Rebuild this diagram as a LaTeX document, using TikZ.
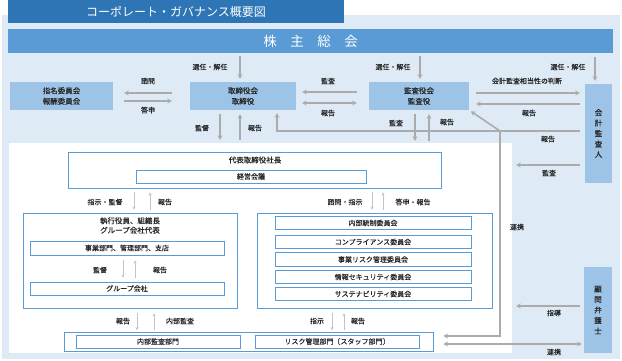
\documentclass[tikz,border=0pt]{standalone}
\usepackage{fontspec}
\setmainfont{Noto Sans CJK JP}[FakeBold=0.3]
\newfontfamily\plainjp{Noto Sans CJK JP}
\usetikzlibrary{arrows.meta}
\definecolor{bgblue}{HTML}{DEEBF7}
\definecolor{titleblue}{HTML}{2E75B6}
\definecolor{shblue}{HTML}{5B9BD5}
\definecolor{midblue}{HTML}{9DC3E6}
\definecolor{bord}{HTML}{5B9BD5}
\definecolor{arrgray}{HTML}{ABABAB}
\definecolor{tgray}{HTML}{C4C4C4}
\definecolor{txt}{HTML}{262626}
\begin{document}
\begin{tikzpicture}[x=1pt,y=-1pt,
  lab/.style={font=\fontsize{7}{8}\selectfont, text=txt, inner sep=0},
  bluebox/.style={fill=midblue, draw=none, inner sep=0, font=\fontsize{7.5}{10.5}\selectfont, text=txt, align=center},
  wbox/.style={draw=bord, line width=0.9pt, fill=white, inner sep=0, font=\fontsize{7}{8}\selectfont, text=txt},
  arr/.style={draw=arrgray, line width=1.6pt, -{Stealth[length=4.5pt,width=5pt]}},
  arrb/.style={draw=arrgray, line width=1.6pt, {Stealth[length=4.5pt,width=5pt]}-{Stealth[length=4.5pt,width=5pt]}},
  tarr/.style={draw=tgray, line width=0.9pt, -{Stealth[length=3pt,width=3.2pt]}},
]
\useasboundingbox (0,0) rectangle (622,361);
% backgrounds
\fill[bgblue] (2,15) rectangle (620,359);
\node[fill=titleblue, minimum width=336pt, minimum height=23pt, inner sep=0, text=white, font=\plainjp\fontsize{12}{14}\selectfont] (title) at (176,11.5) {コーポレート・ガバナンス概要図};
\node[fill=shblue, minimum width=605pt, minimum height=24pt, inner sep=0, text=white, font=\plainjp\fontsize{13.5}{15}\selectfont] (sh) at (310.5,41) {株\quad 主\quad 総\quad 会};
\node[fill=white, minimum width=503pt, minimum height=210pt, inner sep=0] (exarea) at (260.5,248) {};

% top boxes
\node[bluebox, minimum width=103pt, minimum height=28pt] (nom) at (61.5,96) {指名委員会\\報酬委員会};
\node[bluebox, minimum width=106pt, minimum height=28pt] (bod) at (243,96) {取締役会\\取締役};
\node[bluebox, minimum width=100pt, minimum height=28pt] (kan) at (419,96) {監査役会\\監査役};
\node[bluebox, minimum width=27pt, minimum height=99pt] (kai) at (598.5,133.5) {会\\計\\監\\査\\人};
\node[bluebox, minimum width=28pt, minimum height=86pt] (kom) at (598,310) {顧\\問\\弁\\護\\士};

% executive area
\node[wbox, minimum width=373pt, minimum height=36pt] (ceo) at (254.5,170) {};
\node[lab, font=\fontsize{7.5}{9}\selectfont] (ceotxt) at (255,160) {代表取締役社長};
\node[wbox, minimum width=230pt, minimum height=13pt] (keiei) at (251,176.5) {経営会議};

\node[wbox, minimum width=214pt, minimum height=95pt] (exec) at (130,260.5) {};
\node[lab, font=\fontsize{7.5}{9.5}\selectfont, align=center] (exectxt) at (130,225.5) {執行役員、組織長\\グループ会社代表};
\node[wbox, minimum width=194pt, minimum height=14pt] (jigyo) at (127,248) {事業部門、管理部門、支店};
\node[wbox, minimum width=194pt, minimum height=13pt] (group) at (127,288.5) {グループ会社};

\node[wbox, minimum width=235pt, minimum height=95pt] (comm) at (374.5,260.5) {};
\node[wbox, minimum width=196pt, minimum height=13.5pt] (c1) at (373,223) {内部統制委員会};
\node[wbox, minimum width=196pt, minimum height=13.5pt] (c2) at (373,242) {コンプライアンス委員会};
\node[wbox, minimum width=196pt, minimum height=13.5pt] (c3) at (373,259.5) {事業リスク管理委員会};
\node[wbox, minimum width=196pt, minimum height=13.5pt] (c4) at (373,277) {情報セキュリティ委員会};
\node[wbox, minimum width=196pt, minimum height=13.5pt] (c5) at (373,294) {サステナビリティ委員会};

\node[wbox, minimum width=369pt, minimum height=19pt] (bot) at (248.5,341.5) {};
\node[wbox, minimum width=164pt, minimum height=13pt] (naibu) at (158,341.5) {内部監査部門};
\node[wbox, minimum width=164pt, minimum height=13pt] (risk) at (337,341.5) {リスク管理部門〔スタッフ部門〕};

% helper coordinates
\coordinate (xa1) at (240,0);
\coordinate (xa2) at (420,0);
\coordinate (xa3) at (595,0);
\coordinate (xa10) at (220,0);
\coordinate (xa11) at (240,0);
\coordinate (xa12) at (415,0);
\coordinate (xa13) at (429,0);
\coordinate (xa14) at (277,0);
\coordinate (ya4) at (0,93);
\coordinate (ya5) at (0,101);
\coordinate (ya6) at (0,92);
\coordinate (ya7) at (0,103);
\coordinate (ya8) at (0,93);
\coordinate (ya9) at (0,104);
\coordinate (ya14) at (0,131);
\coordinate (ya16) at (0,165);
\coordinate (ya17) at (0,306);
\coordinate (ya18) at (0,344);
\coordinate (ya15) at (0,336);
\coordinate (rk1) at (500,336);
\coordinate (rk2) at (500,131);
\coordinate (xb1) at (134,0);
\coordinate (xb2) at (150,0);
\coordinate (xb3) at (372,0);
\coordinate (xb4) at (383,0);
\coordinate (xb5) at (123,0);
\coordinate (xb6) at (135,0);
\coordinate (xb7) at (137,0);
\coordinate (xb8) at (154,0);
\coordinate (xb9) at (332,0);
\coordinate (xb10) at (344,0);

% top arrows
\draw[arr, shorten <=3pt, shorten >=3pt] (sh.south -| xa1) -- (bod.north -| xa1);
\draw[arr, shorten <=3pt, shorten >=3pt] (sh.south -| xa2) -- (kan.north -| xa2);
\draw[arr, shorten <=4pt, shorten >=3pt] (sh.south -| xa3) -- (kai.north -| xa3);
\draw[arr, shorten <=18pt, shorten >=11pt] (bod.west |- ya4) -- (nom.east |- ya4);
\draw[arr, shorten <=11pt, shorten >=18pt] (nom.east |- ya5) -- (bod.west |- ya5);
\draw[arr, shorten <=12pt, shorten >=6pt] (kan.west |- ya6) -- (bod.east |- ya6);
\draw[arrb, shorten <=6pt, shorten >=12pt] (bod.east |- ya7) -- (kan.west |- ya7);
\draw[arr, shorten <=7pt, shorten >=5pt] (kan.east |- ya8) -- (kai.west |- ya8);
\draw[arr, shorten <=5pt, shorten >=7pt] (kai.west |- ya9) -- (kan.east |- ya9);
\draw[arr, shorten <=4pt, shorten >=3pt] (bod.south -| xa10) -- (exarea.north -| xa10);
\draw[arr, shorten <=3pt, shorten >=4pt] (exarea.north -| xa11) -- (bod.south -| xa11);
\draw[arr, shorten <=4pt, shorten >=2pt] (kan.south -| xa12) -- (exarea.north -| xa12);
\draw[arr, shorten <=2pt, shorten >=4pt] (exarea.north -| xa13) -- (kan.south -| xa13);
\draw[arr, shorten <=5pt, shorten >=3pt] (kai.west |- ya14) -| (bod.south -| xa14);
\draw[arrb, shorten <=10pt, shorten >=2pt] (bot.east |- ya15) -- (rk1) -- (rk2) -- (kan.south east);
\draw[arr, shorten <=5pt, shorten >=4pt] (kai.west |- ya16) -- (exarea.east |- ya16);
\draw[arr, shorten <=4pt, shorten >=4pt] (kom.west |- ya17) -- (exarea.east |- ya17);
\draw[arrb, shorten <=10pt, shorten >=2pt] (bot.east |- ya18) -- (kom.west |- ya18);

% inner arrows
\draw[tarr, shorten <=4pt, shorten >=3pt] (ceo.south -| xb1) -- (exec.north -| xb1);
\draw[tarr, shorten <=3pt, shorten >=4pt] (exec.north -| xb2) -- (ceo.south -| xb2);
\draw[tarr, shorten <=4pt, shorten >=3pt] (ceo.south -| xb3) -- (comm.north -| xb3);
\draw[tarr, shorten <=3pt, shorten >=4pt] (comm.north -| xb4) -- (ceo.south -| xb4);
\draw[tarr, shorten <=5pt, shorten >=4pt] (jigyo.south -| xb5) -- (group.north -| xb5);
\draw[tarr, shorten <=4pt, shorten >=5pt] (group.north -| xb6) -- (jigyo.south -| xb6);
\draw[tarr, shorten <=5pt, shorten >=1.5pt] (exec.south -| xb7) -- (bot.north -| xb7);
\draw[tarr, shorten <=1.5pt, shorten >=5pt] (bot.north -| xb8) -- (exec.south -| xb8);
\draw[tarr, shorten <=5pt, shorten >=1.5pt] (comm.south -| xb9) -- (bot.north -| xb9);
\draw[tarr, shorten <=1.5pt, shorten >=5pt] (bot.north -| xb10) -- (comm.south -| xb10);

% labels
\node[lab] (l1) at (210,67) {選任・解任};
\node[lab] (l2) at (393,67) {選任・解任};
\node[lab] (l3) at (568,67) {選任・解任};
\node[lab] (l4) at (148,81) {諮問};
\node[lab] (l5) at (148,110) {答申};
\node[lab] (l6) at (328,81) {監査};
\node[lab] (l7) at (328,113) {報告};
\node[lab] (l8) at (527,81) {会計監査相当性の判断};
\node[lab] (l9) at (529,113) {報告};
\node[lab] (l10) at (202,128) {監督};
\node[lab] (l11) at (255,128) {報告};
\node[lab] (l12) at (396,123) {監査};
\node[lab] (l13) at (447,122) {報告};
\node[lab] (l14) at (548,139) {報告};
\node[lab] (l15) at (517,227) {連携};
\node[lab] (l16) at (549,173) {監査};
\node[lab] (l17) at (554,313) {指導};
\node[lab] (l18) at (554,352) {連携};
\node[lab] (m1) at (105,202) {指示・監督};
\node[lab] (m2) at (165,202) {報告};
\node[lab] (m3) at (345,202) {諮問・指示};
\node[lab] (m4) at (413,202) {答申・報告};
\node[lab] (m5) at (100,270) {監督};
\node[lab] (m6) at (160,270) {報告};
\node[lab] (m7) at (123,321) {報告};
\node[lab] (m8) at (180,321) {内部監査};
\node[lab] (m9) at (317,321) {指示};
\node[lab] (m10) at (358,321) {報告};
\end{tikzpicture}
\end{document}
